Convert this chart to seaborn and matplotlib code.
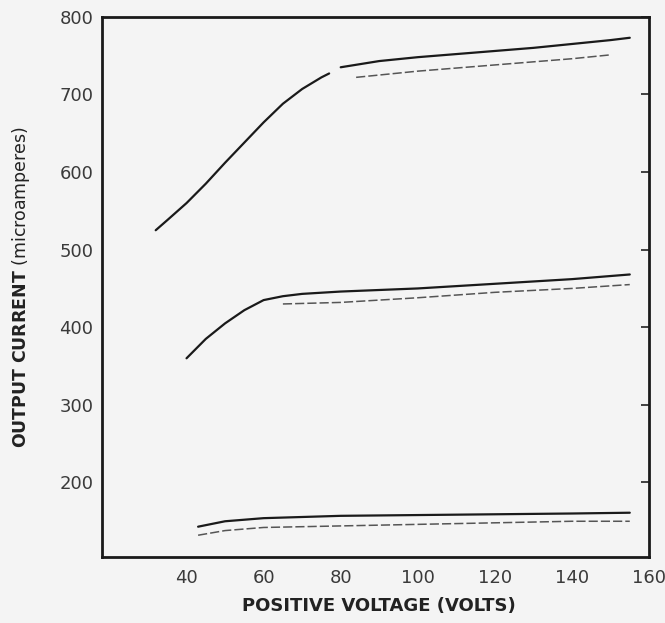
import matplotlib.pyplot as plt
import seaborn as sns

sns.set_style("white")
plt.rcParams["font.family"] = ["DejaVu Sans"]
plt.rcParams["mathtext.fontset"] = "dejavusans"

# Upper family, main trace (rising part, then plateau)
top_rise_v = [32, 35, 40, 45, 50, 55, 60, 65, 70, 75, 77]
top_rise_i = [525, 538, 560, 585, 612, 638, 664, 688, 707, 722, 727]
top_flat_v = [80, 90, 100, 110, 120, 130, 140, 150, 155]
top_flat_i = [735, 743, 748, 752, 756, 760, 765, 770, 773]
top_low_v = [84, 100, 120, 140, 150]
top_low_i = [722, 730, 738, 746, 751]

# Middle family
mid_v = [40, 45, 50, 55, 60, 65, 70, 80, 100, 120, 140, 155]
mid_i = [360, 385, 405, 422, 435, 440, 443, 446, 450, 456, 462, 468]
mid_low_v = [65, 80, 100, 120, 140, 155]
mid_low_i = [430, 432, 438, 445, 450, 455]

# Bottom family
bot_v = [43, 50, 60, 80, 100, 120, 140, 155]
bot_i = [143, 150, 154, 157, 158, 159, 160, 161]
bot_low_v = [43, 50, 60, 80, 100, 120, 140, 155]
bot_low_i = [132, 138, 142, 144, 146, 148, 150, 150]

x_ticks = [40, 60, 80, 100, 120, 140, 160]
y_ticks = [200, 300, 400, 500, 600, 700, 800]

fig = plt.figure(figsize=(6.65, 6.23), dpi=100, facecolor="#f4f4f4")
ax = fig.add_axes([0.153, 0.106, 0.823, 0.867])
ax.set_facecolor("#f4f4f4")

solid = dict(color="#1a1a1a", linewidth=1.6)
faint = dict(color="#555555", linewidth=1.1, linestyle=(0, (6, 2)))

for v, i in [(top_rise_v, top_rise_i), (top_flat_v, top_flat_i), (mid_v, mid_i), (bot_v, bot_i)]:
    sns.lineplot(x=v, y=i, ax=ax, **solid)
for v, i in [(top_low_v, top_low_i), (mid_low_v, mid_low_i), (bot_low_v, bot_low_i)]:
    sns.lineplot(x=v, y=i, ax=ax, **faint)

ax.set_xlim(18, 160)
ax.set_ylim(104, 800)
ax.set_xticks(x_ticks)
ax.set_yticks(y_ticks)
ax.tick_params(direction="in", length=6, width=1.2, colors="#222222",
               labelsize=13, labelcolor="#3a3a3a", right=True)
ax.tick_params(axis="x", pad=9)
ax.tick_params(axis="y", pad=6)
for s in ax.spines.values():
    s.set_linewidth(2)
    s.set_color("#1a1a1a")

ax.set_xlabel("POSITIVE VOLTAGE (VOLTS)", fontsize=13, fontweight="bold",
              color="#222222")
ax.xaxis.set_label_coords(0.507, -0.074)
ax.set_ylabel(r"$\bf{OUTPUT\ CURRENT}$ (microamperes)", fontsize=12.5,
              color="#222222")
ax.yaxis.set_label_coords(-0.128, 0.5)

plt.savefig("out.png", dpi=100, facecolor=fig.get_facecolor())
plt.close()
